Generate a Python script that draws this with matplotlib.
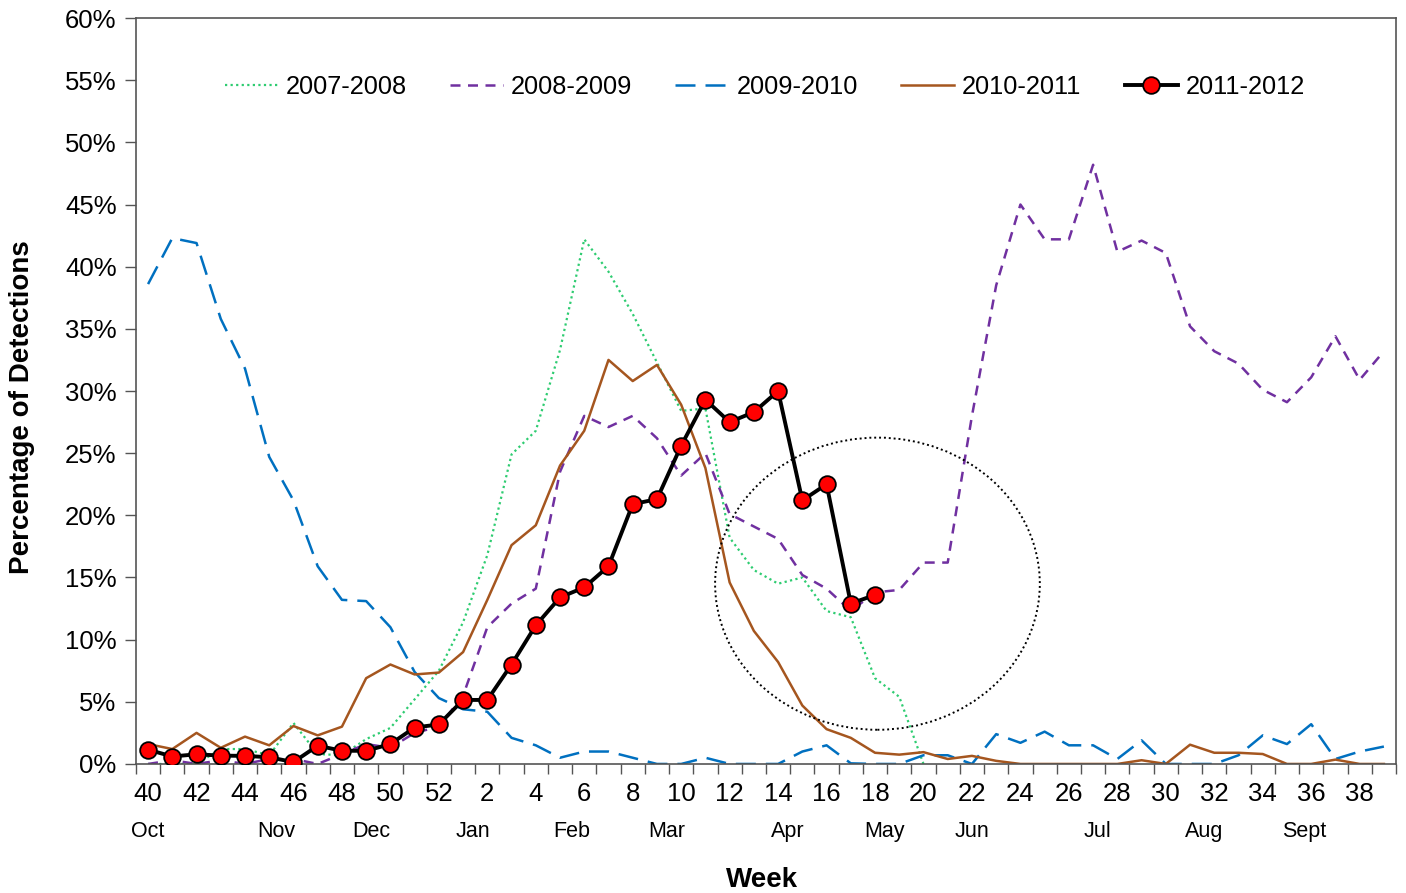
import matplotlib
matplotlib.use("Agg")
import matplotlib.pyplot as plt
import numpy as np
from matplotlib.patches import Ellipse
from matplotlib.ticker import FixedLocator, FuncFormatter

plt.rcParams["font.family"] = ["Liberation Sans", "DejaVu Sans"]

weeks = list(range(40, 53)) + list(range(1, 40))

s0708 = [0, 0, 0, 1.2, 1.2, 0.7, 3.3, 0.8, 0.7, 2.0, 2.9, 5.2, 7.5, 11.4, 16.8, 24.9,
         26.8, 33.3, 42.2, 39.6, 36.2, 32.3, 28.4, 28.6, 18.2, 15.6, 14.5, 15.0, 12.3,
         11.8, 6.9, 5.4, 0]
s0809 = [0, 0.3, 0, 0.3, 0, 0.4, 0.4, 0, 0.8, 1.6, 1.3, 2.5, 3.0, 5.5, 11.0, 12.9,
         14.1, 23.5, 28.0, 27.1, 28.0, 26.2, 23.2, 25.0, 20.1, 19.1, 18.1, 15.2, 14.1,
         12.3, 13.8, 14.0, 16.2, 16.2, 28.0, 38.5, 45.0, 42.2, 42.2, 48.2, 41.2, 42.1,
         41.1, 35.2, 33.2, 32.2, 30.1, 29.1, 31.1, 34.4, 30.9, 33.2]
s0910 = [38.6, 42.3, 41.9, 35.8, 31.8, 24.7, 21.2, 15.9, 13.2, 13.1, 11.0, 7.4, 5.3,
         4.4, 4.2, 2.1, 1.5, 0.5, 1.0, 1.0, 0.5, 0, 0, 0.5, 0, 0, 0, 1.0, 1.5, 0.05,
         0, 0, 0.7, 0.7, 0, 2.4, 1.7, 2.6, 1.5, 1.5, 0.4, 1.9, 0, 0, 0, 0.7, 2.3, 1.6,
         3.2, 0.4, 1.0, 1.4]
s1011 = [1.6, 1.2, 2.5, 1.3, 2.2, 1.5, 3.05, 2.3, 3.0, 6.9, 8.0, 7.2, 7.35, 9.0, 13.2,
         17.6, 19.2, 24.0, 26.8, 32.5, 30.8, 32.1, 28.9, 23.8, 14.6, 10.7, 8.2, 4.7,
         2.8, 2.1, 0.9, 0.75, 0.95, 0.4, 0.65, 0.25, 0, 0, 0, 0, 0, 0.3, 0, 1.55, 0.9,
         0.9, 0.8, 0, 0, 0.35, 0, 0]
s1112 = [1.15, 0.6, 0.78, 0.67, 0.65, 0.54, 0.15, 1.47, 1.06, 1.06, 1.6, 2.93, 3.18,
         5.15, 5.15, 8.0, 11.15, 13.4, 14.2, 15.9, 20.9, 21.3, 25.6, 29.3, 27.5, 28.3,
         30.0, 21.2, 22.5, 12.9, 13.6]

months = ["Oct", "Nov", "Dec", "Jan", "Feb", "Mar", "Apr", "May", "Jun", "Jul", "Aug", "Sept"]
month_pos = [0, 5.3, 9.2, 13.4, 17.5, 21.4, 26.4, 30.4, 34.0, 39.2, 43.6, 47.7]

fig = plt.figure(figsize=(14.06, 8.93), dpi=100)
ax = fig.add_axes([0.0967, 0.1445, 0.8962, 0.8353])

ax.plot(np.arange(len(s0708)), s0708, color="#2ECC71", lw=1.6, ls=(0, (1, 1.5)), label="2007-2008")
ax.plot(np.arange(len(s0809)), s0809, color="#7030A0", lw=1.8, ls=(0, (4, 3)), label="2008-2009")
ax.plot(np.arange(len(s0910)), s0910, color="#0070C0", lw=1.8, ls=(0, (8, 4)), label="2009-2010")
ax.plot(np.arange(len(s1011)), s1011, color="#A5561F", lw=1.8, label="2010-2011")
ax.plot(np.arange(len(s1112)), s1112, color="black", lw=2.8, marker="o", ms=12,
        mfc="#FF0000", mec="black", mew=1.3, label="2011-2012", zorder=5)

ax.add_patch(Ellipse((30.1, 14.5), 13.4, 23.5, fill=False, ec="black", lw=1.4,
                     ls=(0, (1, 1.5)), zorder=6))

ax.set_xlim(-0.5, len(weeks) - 0.5)
ax.set_ylim(0, 60)

ax.xaxis.set_major_locator(FixedLocator(np.arange(0, len(weeks), 2)))
ax.set_xticklabels([str(w) for w in weeks[::2]])
ax.xaxis.set_minor_locator(FixedLocator(np.arange(len(weeks) + 1) - 0.5))
ax.tick_params(axis="x", which="major", length=0, pad=13, labelsize=18.5)
ax.tick_params(axis="x", which="minor", length=7, width=1, color="#555555")

ax.set_yticks(np.arange(0, 61, 5))
ax.yaxis.set_major_formatter(FuncFormatter(lambda v, p: f"{v:.0f}%"))
ax.tick_params(axis="y", length=8, width=1, color="#555555", labelsize=18.5, pad=6)

for spine in ax.spines.values():
    spine.set_color("#555555")
    spine.set_linewidth(1.2)

for m, pos in zip(months, month_pos):
    ax.text(pos, -0.09, m, transform=ax.get_xaxis_transform(), ha="center", va="center",
            fontsize=15.5)

ax.text(0.497, -0.155, "Week", transform=ax.transAxes, ha="center", va="center",
        fontsize=20, fontweight="bold")
fig.text(0.016, 0.544, "Percentage of Detections", rotation=90, ha="center", va="center",
         fontsize=20, fontweight="bold")

ax.legend(loc="center", bbox_to_anchor=(0.499, 0.9075), ncol=5, frameon=False, fontsize=18.3,
          handlelength=2.1, handletextpad=0.3, columnspacing=1.7)

fig.savefig("out.png", dpi=100)
